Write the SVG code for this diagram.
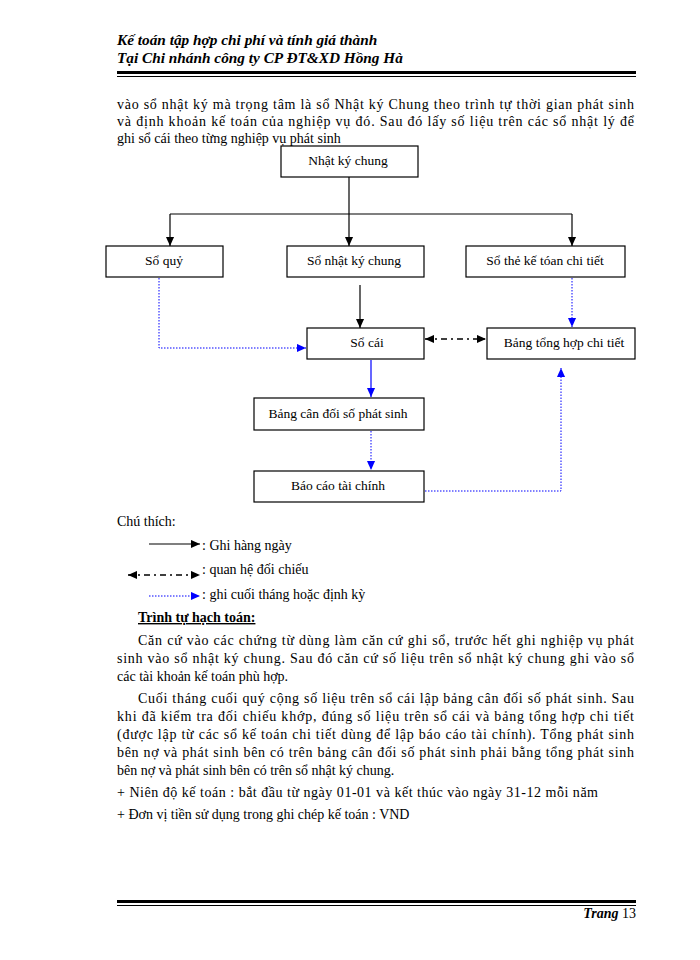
<svg xmlns="http://www.w3.org/2000/svg" width="700" height="960" viewBox="0 0 700 960" xml:space="preserve">
<style>
text{font-family:"Liberation Serif","Times New Roman",serif;fill:#000}
.hd{font-size:15.3px;font-weight:bold;font-style:italic}
.bd{font-size:14px}
.nd{font-size:13.5px;text-anchor:middle}
.box{fill:#fff;stroke:#000;stroke-width:1.2}
.k{stroke:#000;stroke-width:1.2;fill:none}
.b{stroke:#0000ff;stroke-width:1.2;fill:none}
.bdot{stroke:#0000ff;stroke-width:1;stroke-dasharray:1.5,1.5;fill:none}
.dd{stroke:#000;stroke-width:1.6;stroke-dasharray:6,4,2,4;fill:none}
</style>
<defs>
<marker id="ak" viewBox="0 0 10 10" refX="10" refY="5" markerWidth="9" markerHeight="9" markerUnits="userSpaceOnUse" orient="auto-start-reverse"><path d="M0,0.5 L10,5 L0,9.5 z" fill="#000"/></marker>
<marker id="abl" viewBox="0 0 10 10" refX="10" refY="5" markerWidth="9" markerHeight="9" markerUnits="userSpaceOnUse" orient="auto-start-reverse"><path d="M0,0.5 L10,5 L0,9.5 z" fill="#0000ff"/></marker>
</defs>
<rect width="700" height="960" fill="#fff"/>
<g id="header">
<text class="hd" x="117" y="45">Kế toán tập hợp chi  phí và tính giá thành</text>
<text class="hd" x="117" y="63">Tại Chi nhánh công ty CP ĐT&amp;XD  Hồng  Hà</text>
<rect x="117" y="71" width="519" height="3" fill="#000"/>
<rect x="117" y="76" width="519" height="1" fill="#000"/>
</g>
<g id="intro">
<text class="bd" x="117" y="109" textLength="517" lengthAdjust="spacing">vào sổ nhật ký mà trọng tâm là sổ Nhật ký Chung theo trình tự thời gian phát sinh</text>
<text class="bd" x="117" y="126" textLength="517" lengthAdjust="spacing">và định khoản kế toán của nghiệp vụ đó. Sau đó lấy số liệu trên các sổ nhật lý để</text>
<text class="bd" x="117" y="143">ghi sổ cái theo từng nghiệp  vụ phát  sinh</text>
</g>
<g id="connectors">
<line class="k" x1="349" y1="177" x2="349" y2="214"/>
<line class="k" x1="170" y1="214" x2="572" y2="214"/>
<line class="k" x1="170" y1="214" x2="170" y2="246" marker-end="url(#ak)"/>
<line class="k" x1="349" y1="214" x2="349" y2="246" marker-end="url(#ak)"/>
<line class="k" x1="572" y1="214" x2="572" y2="246" marker-end="url(#ak)"/>
<line class="k" x1="360" y1="285" x2="360" y2="328" marker-end="url(#ak)"/>
<polyline class="bdot" points="159,278 159,348 306,348" marker-end="url(#abl)"/>
<line class="bdot" x1="572" y1="278" x2="572" y2="327" marker-end="url(#abl)"/>
<line class="dd" x1="425" y1="339" x2="486" y2="339" marker-start="url(#ak)" marker-end="url(#ak)"/>
<line class="b" x1="371" y1="360" x2="371" y2="397" marker-end="url(#abl)"/>
<line class="bdot" x1="371" y1="431" x2="371" y2="470" marker-end="url(#abl)"/>
<polyline class="bdot" points="425,491 561,491 561,368" marker-end="url(#abl)"/>
</g>
<g id="n-nhatkychung">
<rect class="box" x="281" y="146" width="137" height="31"/>
<text class="nd" x="348" y="165">Nhật ký chung</text>
</g>
<g id="n-soquy">
<rect class="box" x="106" y="246" width="117" height="31"/>
<text class="nd" x="164" y="265">Sổ quỷ</text>
</g>
<g id="n-sonhatkychung">
<rect class="box" x="287" y="246" width="137" height="31"/>
<text class="nd" x="354" y="265">Sổ nhật ký chung</text>
</g>
<g id="n-sothe">
<rect class="box" x="466" y="246" width="159" height="31"/>
<text class="nd" x="545" y="265">Sổ thẻ kế tóan chi tiết</text>
</g>
<g id="n-socai">
<rect class="box" x="307" y="328" width="117" height="31"/>
<text class="nd" x="367" y="347">Sổ cái</text>
</g>
<g id="n-bangtonghop">
<rect class="box" x="487" y="328" width="148" height="31"/>
<text class="nd" x="564" y="347">Bảng tổng hợp chi tiết</text>
</g>
<g id="n-bangcandoi">
<rect class="box" x="254" y="398" width="170" height="32"/>
<text class="nd" x="338" y="418">Bảng cân đối số phát sinh</text>
</g>
<g id="n-baocao">
<rect class="box" x="254" y="471" width="170" height="31"/>
<text class="nd" x="338" y="490">Báo cáo tài chính</text>
</g>
<g id="legend">
<text class="bd" x="117" y="526">Chú thích:</text>
<line class="k" x1="149" y1="544" x2="200" y2="544" marker-end="url(#ak)"/>
<text class="bd" x="202" y="550">: Ghi hàng ngày</text>
<line class="dd" x1="128" y1="575" x2="200" y2="575" marker-start="url(#ak)" marker-end="url(#ak)"/>
<text class="bd" x="202" y="574">: quan hệ đối chiếu</text>
<line class="bdot" x1="149" y1="596" x2="200" y2="596" marker-end="url(#abl)"/>
<text class="bd" x="202" y="599">: ghi cuối tháng hoặc định kỳ</text>
</g>
<g id="body">
<text class="bd" x="138" y="622" font-weight="bold" text-decoration="underline">Trình tự hạch toán:</text>
<text class="bd" x="138" y="645" textLength="496" lengthAdjust="spacing">Căn cứ vào  các chứng từ dùng  làm căn cứ ghi sổ, trước hết ghi nghiệp vụ phát</text>
<text class="bd" x="117" y="663" textLength="517" lengthAdjust="spacing">sinh vào sổ nhật ký chung. Sau đó căn cứ số liệu trên sổ nhật ký chung ghi vào sổ</text>
<text class="bd" x="117" y="681">các tài khoản kế toán phù hợp.</text>
<text class="bd" x="138" y="703" textLength="496" lengthAdjust="spacing">Cuối tháng  cuối quý  cộng số liệu trên sổ cái lập bảng  cân đối số phát  sinh. Sau</text>
<text class="bd" x="117" y="721" textLength="517" lengthAdjust="spacing">khi đã kiểm tra đối chiếu khớp, đúng  số liệu trên sổ cái và bảng  tổng hợp  chi tiết</text>
<text class="bd" x="117" y="739" textLength="517" lengthAdjust="spacing">(được lập từ các sổ kế toán chi tiết dùng để lập báo cáo tài chính). Tổng phát  sinh</text>
<text class="bd" x="117" y="757" textLength="517" lengthAdjust="spacing">bên nợ và  phát  sinh bên có trên bảng  cân đối số phát sinh phải bằng tổng phát sinh</text>
<text class="bd" x="117" y="775">bên nợ và phát sinh bên có trên sổ nhật ký chung.</text>
<text class="bd" x="117" y="797" textLength="481" lengthAdjust="spacing">+ Niên độ kế toán : bắt đầu từ ngày  01-01 và  kết thúc vào ngày  31-12 mỗi năm</text>
<text class="bd" x="117" y="819">+ Đơn vị tiền sử dụng trong ghi chép kế toán : VND</text>
</g>
<g id="footer">
<rect x="117" y="900" width="519" height="3" fill="#000"/>
<rect x="117" y="905" width="519" height="1" fill="#000"/>
<text x="636" y="918" text-anchor="end" class="bd"><tspan font-weight="bold" font-style="italic">Trang</tspan>  13</text>
</g>
</svg>
